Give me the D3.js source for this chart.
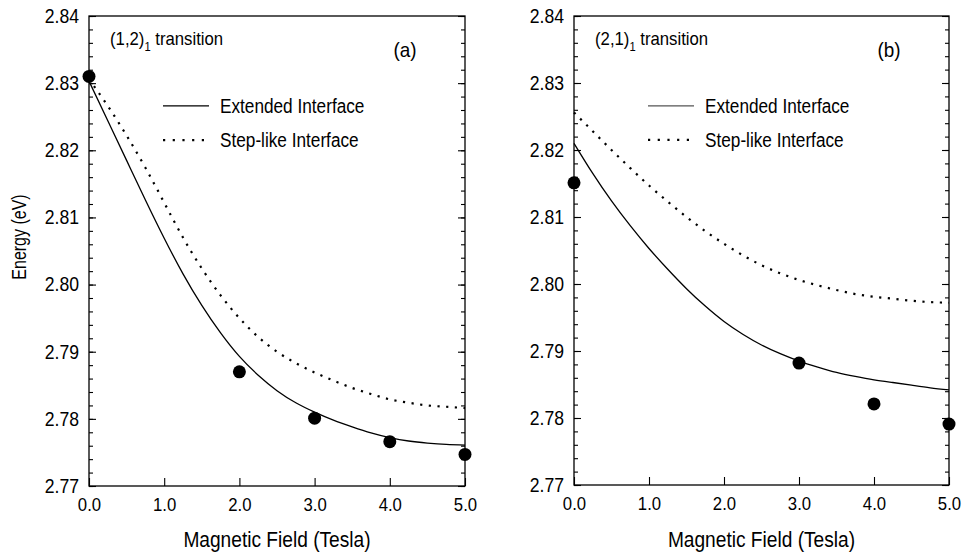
<!DOCTYPE html>
<html>
<head>
<meta charset="utf-8">
<script src="https://cdn.jsdelivr.net/npm/d3@7"></script>
<style>
  body { margin: 0; background: #fff; }
  text { font-family: "Liberation Sans", Arial, sans-serif; fill: #000; }
</style>
</head>
<body>
<div id="chart-container"></div>
<script>
// Magnetic field grid used for the model curves (Tesla)
const fieldGrid = [0, 0.25, 0.5, 0.75, 1, 1.25, 1.5, 1.75, 2, 2.25, 2.5, 2.75, 3, 3.25, 3.5, 3.75, 4, 4.25, 4.5, 4.75, 5];

// Panel (a): (1,2)1 transition
const extendedA = [2.8303, 2.8244, 2.8185, 2.8126, 2.8069, 2.8016, 2.7969, 2.7928, 2.7893, 2.7865, 2.7842,
  2.7824, 2.7810, 2.7798, 2.7788, 2.7779, 2.7772, 2.7767, 2.7764, 2.7762, 2.7761];
const steplikeA = [2.8306, 2.8266, 2.8222, 2.8174, 2.8122, 2.8070, 2.8024, 2.7984, 2.7950, 2.7922, 2.7900,
  2.7883, 2.7869, 2.7857, 2.7846, 2.7837, 2.7829, 2.7824, 2.7820, 2.7818, 2.7816];
const measuredFieldA = [0, 2, 3, 4, 5];
const measuredEnergyA = [2.8310, 2.7870, 2.7801, 2.7766, 2.7747];

// Panel (b): (2,1)1 transition
const extendedB = [2.8210, 2.8165, 2.8124, 2.8087, 2.8053, 2.8022, 2.7993, 2.7967, 2.7944, 2.7925, 2.7909,
  2.7896, 2.7885, 2.7876, 2.7868, 2.7862, 2.7857, 2.7853, 2.7849, 2.7845, 2.7842];
const steplikeB = [2.8256, 2.8228, 2.8200, 2.8173, 2.8147, 2.8123, 2.8100, 2.8079, 2.8060, 2.8043, 2.8028,
  2.8016, 2.8006, 2.7998, 2.7991, 2.7985, 2.7981, 2.7978, 2.7975, 2.7973, 2.7972];
const measuredFieldB = [0, 3, 4, 5];
const measuredEnergyB = [2.8151, 2.7882, 2.7821, 2.7791];

// Axis ticks
const xTicks = [0, 1, 2, 3, 4, 5];
const yTicks = [2.77, 2.78, 2.79, 2.80, 2.81, 2.82, 2.83, 2.84];
const yMinorTicks = d3.range(2.770, 2.8401, 0.002).map(v => +v.toFixed(3));
const legendLabels = ['Extended Interface', 'Step-like Interface'];

const svgWidth = 963;
const svgHeight = 557;

const svg = d3.select('#chart-container')
  .append('svg')
  .attr('width', svgWidth)
  .attr('height', svgHeight);

// the original lettering is a narrow grotesque, squeeze the glyphs a bit
function condense(sel, f) {
  sel.each(function () {
    const len = this.getComputedTextLength();
    d3.select(this).attr('textLength', len * f).attr('lengthAdjust', 'spacingAndGlyphs');
  });
}

function drawPanel(p) {
  const x = d3.scaleLinear().domain([0, 5]).range([p.left, p.right]);
  const y = d3.scaleLinear().domain([2.77, 2.84]).range([p.bottom, p.top]);
  const g = svg.append('g');

  // Left axis with labels, ticks pointing inward
  g.append('g')
    .attr('transform', 'translate(' + p.left + ',0)')
    .call(d3.axisLeft(y).tickValues(yMinorTicks).tickSize(-4).tickFormat(''))
    .call(a => a.select('.domain').remove());
  const yAxis = g.append('g')
    .attr('transform', 'translate(' + p.left + ',0)')
    .call(d3.axisLeft(y).tickValues(yTicks).tickSize(-7).tickPadding(10).tickFormat(d3.format('.2f')));
  yAxis.select('.domain').remove();
  yAxis.selectAll('text').style('font-size', '20px').call(condense, 0.88);

  // Right axis, ticks only
  g.append('g')
    .attr('transform', 'translate(' + p.right + ',0)')
    .call(d3.axisRight(y).tickValues(yMinorTicks).tickSize(-4).tickFormat(''))
    .call(a => a.select('.domain').remove());
  g.append('g')
    .attr('transform', 'translate(' + p.right + ',0)')
    .call(d3.axisRight(y).tickValues(yTicks).tickSize(-7).tickFormat(''))
    .call(a => a.select('.domain').remove());

  // Bottom axis
  const xAxis = g.append('g')
    .attr('transform', 'translate(0,' + p.bottom + ')')
    .call(d3.axisBottom(x).tickValues(xTicks).tickSize(-8).tickPadding(12).tickFormat(d3.format('.1f')));
  xAxis.select('.domain').remove();
  xAxis.selectAll('text').style('font-size', '19px').call(condense, 0.88);

  g.selectAll('.tick line').attr('stroke', '#000').attr('stroke-width', 1.1);

  // Frame
  g.append('rect')
    .attr('x', p.left)
    .attr('y', p.top)
    .attr('width', p.right - p.left)
    .attr('height', p.bottom - p.top)
    .attr('fill', 'none')
    .attr('stroke', '#000')
    .attr('stroke-width', 1.3);

  // Model curves
  const line = d3.line()
    .x(d => x(d[0]))
    .y(d => y(d[1]))
    .curve(d3.curveNatural);

  g.append('path')
    .datum(fieldGrid.map((f, i) => [f, p.extended[i]]))
    .attr('d', line)
    .attr('fill', 'none')
    .attr('stroke', '#000')
    .attr('stroke-width', 1.3);

  g.append('path')
    .datum(fieldGrid.map((f, i) => [f, p.steplike[i]]))
    .attr('d', line)
    .attr('fill', 'none')
    .attr('stroke', '#000')
    .attr('stroke-width', 2.2)
    .attr('stroke-dasharray', '2.2,6.5');

  // Measured points
  g.selectAll('.pt')
    .data(p.fields.map((f, i) => [f, p.energies[i]]))
    .enter()
    .append('circle')
    .attr('cx', d => x(d[0]))
    .attr('cy', d => y(d[1]))
    .attr('r', 6.5)
    .attr('fill', '#000');

  // Legend
  const lx = p.left + 74;
  const legendY = [y(2.8266), y(2.8215)];
  legendLabels.forEach((label, i) => {
    g.append('line')
      .attr('x1', lx).attr('x2', lx + 46)
      .attr('y1', legendY[i]).attr('y2', legendY[i])
      .attr('stroke', i === 0 && p.greyKey ? '#555' : '#000')
      .attr('stroke-width', i === 0 ? 1.2 : 2.2)
      .attr('stroke-dasharray', i === 0 ? null : '2.2,7.5');
    g.append('text')
      .attr('x', lx + 57)
      .attr('y', legendY[i])
      .attr('dy', '0.36em')
      .style('font-size', '20px')
      .text(label)
      .call(condense, 0.86);
  });

  // Transition label with subscript, squeezed as a whole
  const t = g.append('g')
    .attr('transform', 'translate(' + (p.left + 21) + ',' + (p.top + 29) + ') scale(0.93,1)')
    .append('text')
    .style('font-size', '18px');
  t.append('tspan').text(p.transition);
  t.append('tspan').attr('dy', 6).style('font-size', '12px').text('1');
  t.append('tspan').attr('dy', -6).text(' transition');

  g.append('text')
    .attr('x', p.right - 60)
    .attr('y', p.top + 41)
    .attr('text-anchor', 'middle')
    .style('font-size', '21px')
    .text(p.tag)
    .call(condense, 0.9);

  // Axis title
  g.append('text')
    .attr('x', (p.left + p.right) / 2)
    .attr('y', 547)
    .attr('text-anchor', 'middle')
    .style('font-size', '22px')
    .text('Magnetic Field (Tesla)')
    .call(condense, 0.87);
}

drawPanel({ left: 89, right: 465, top: 16, bottom: 486, extended: extendedA, steplike: steplikeA,
  fields: measuredFieldA, energies: measuredEnergyA, transition: '(1,2)', tag: '(a)', greyKey: false });
drawPanel({ left: 574, right: 949, top: 16, bottom: 485, extended: extendedB, steplike: steplikeB,
  fields: measuredFieldB, energies: measuredEnergyB, transition: '(2,1)', tag: '(b)', greyKey: true });

// Y axis title, left panel only
svg.append('text')
  .attr('transform', 'translate(26,237) rotate(-90)')
  .attr('text-anchor', 'middle')
  .attr('font-size', 20)
  .style('font-size', '20px')
  .text('Energy (eV)')
  .call(condense, 0.8);
</script>
</body>
</html>
